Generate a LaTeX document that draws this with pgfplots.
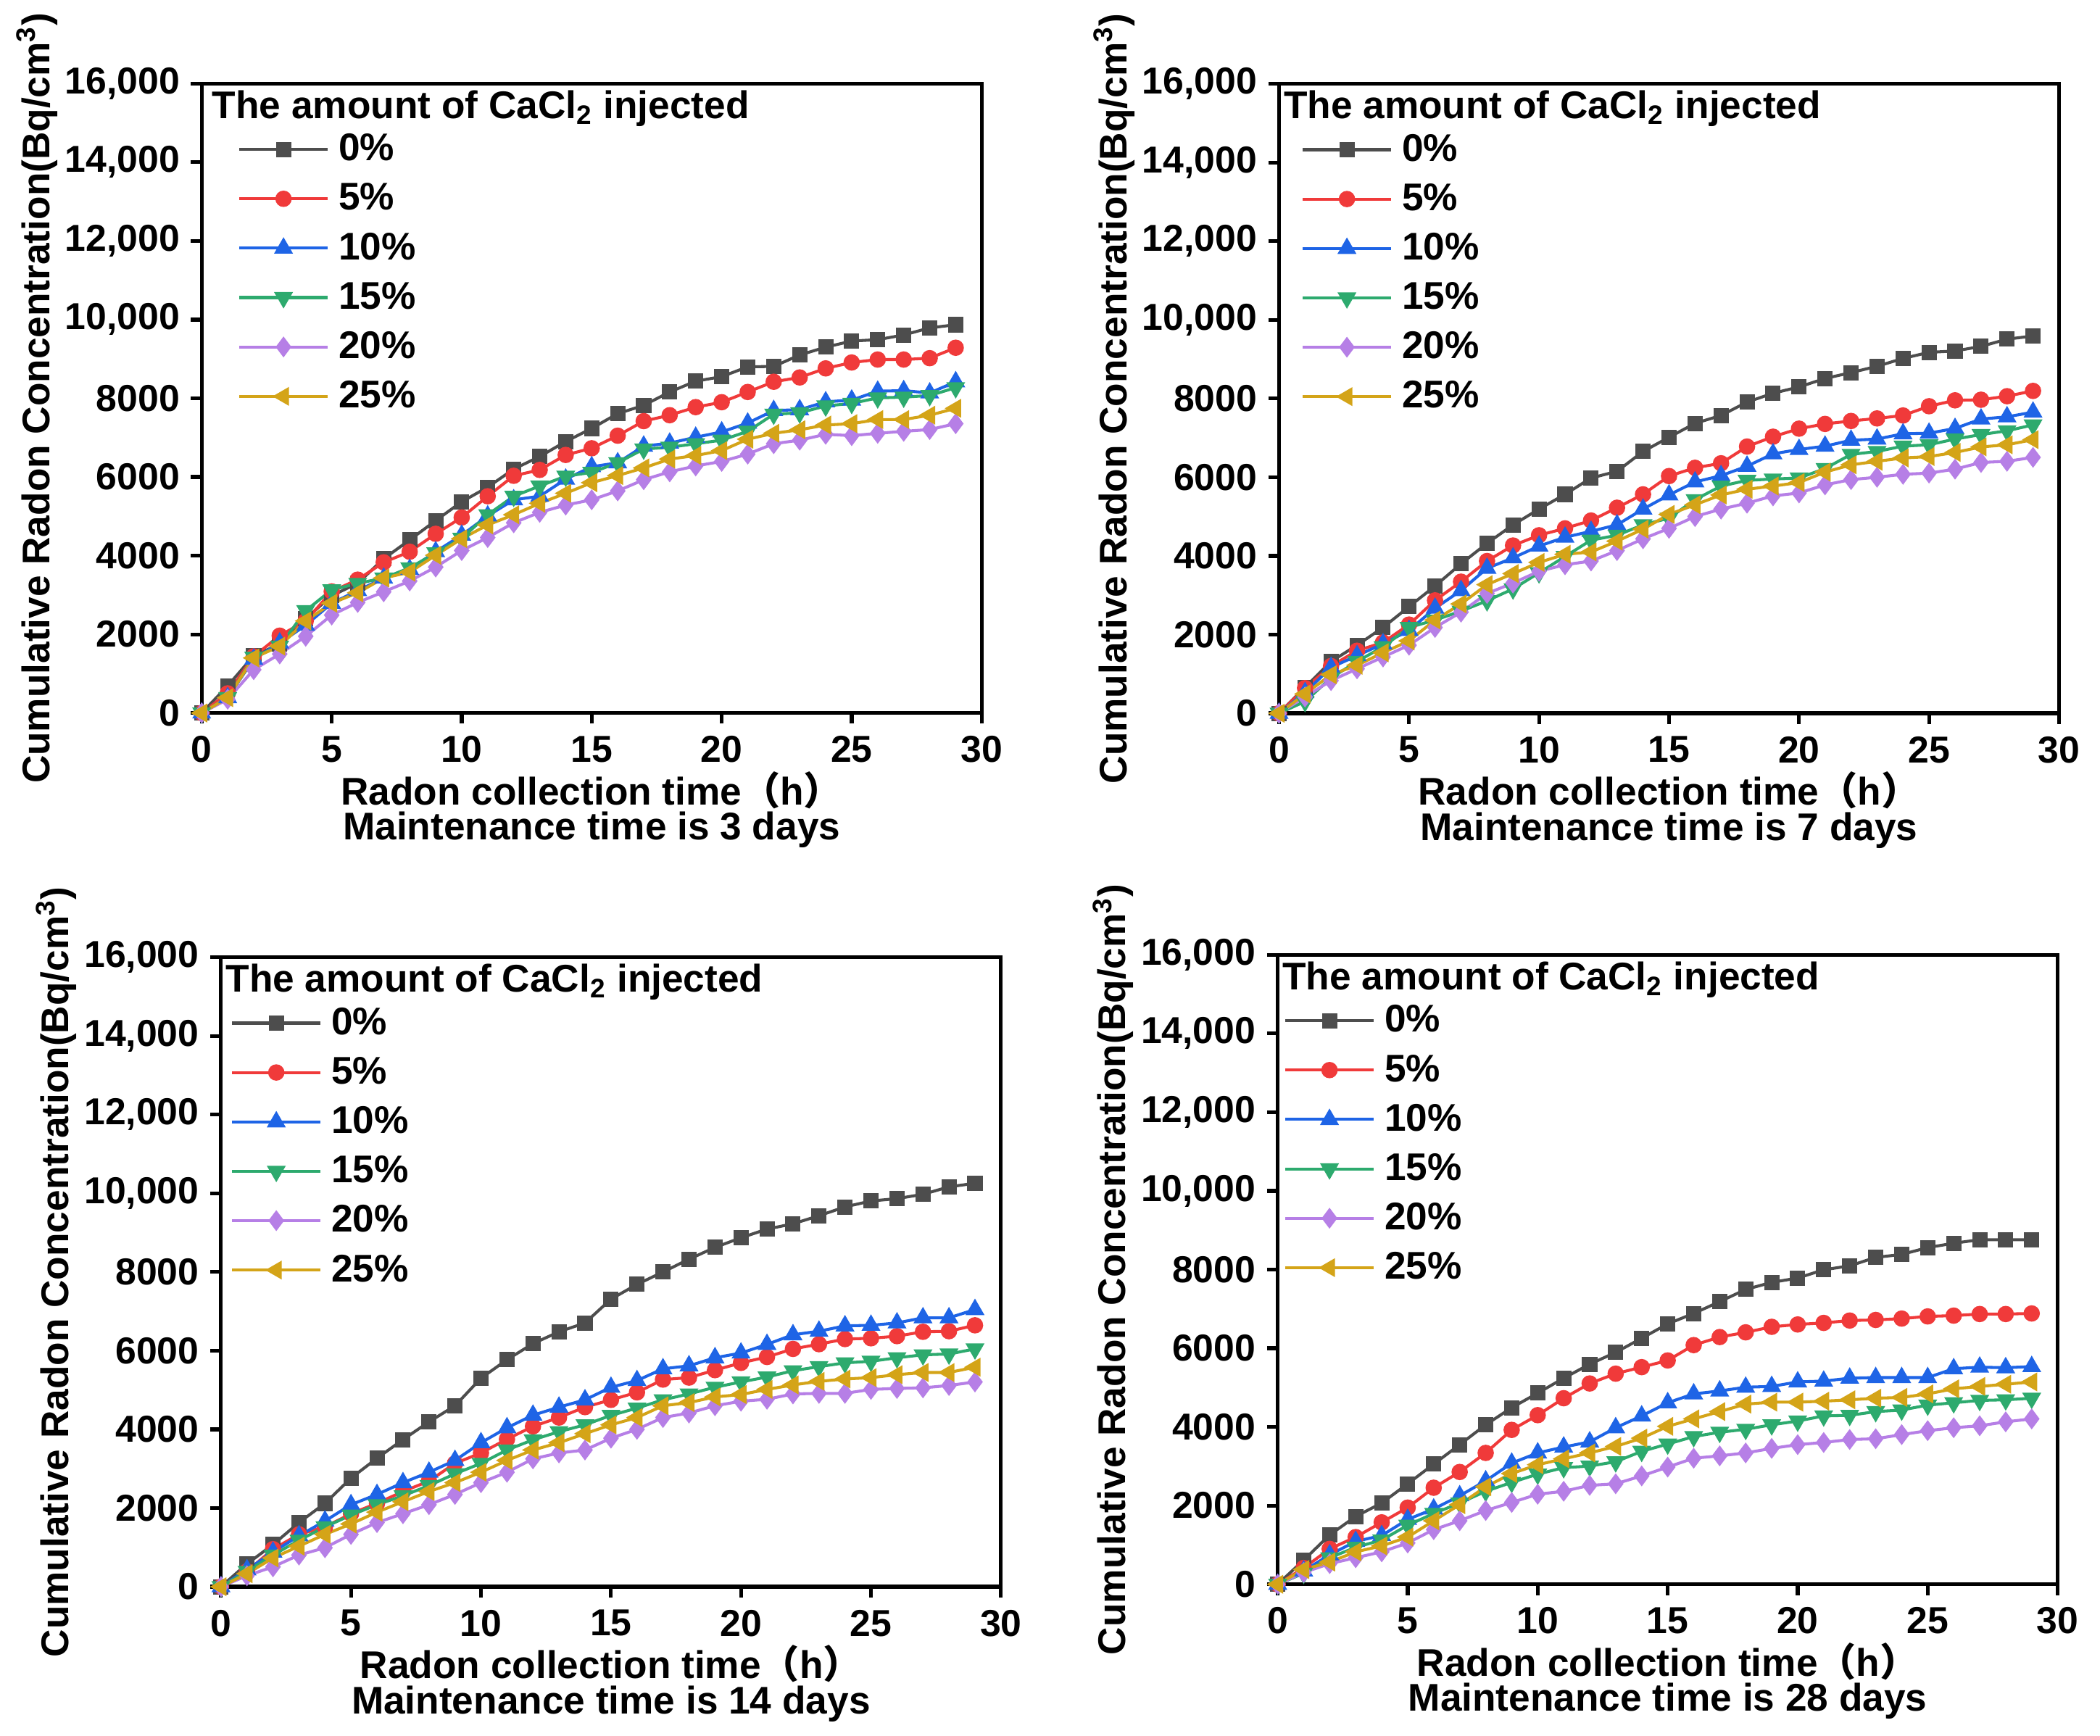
\documentclass[border=0pt]{standalone}
\usepackage{fontspec}
\setmainfont{Liberation Sans}
\newfontfamily\cjk{Noto Sans CJK SC}
\usepackage{pgfplots}
\pgfplotsset{compat=1.18}
\usepackage{pgfplotstable}

\definecolor{cgrey}{HTML}{4D4D4D}
\definecolor{cred}{HTML}{F03A3A}
\definecolor{cblue}{HTML}{1E64E6}
\definecolor{cgreen}{HTML}{2DAA6E}
\definecolor{cpurple}{HTML}{B67FE6}
\definecolor{cgold}{HTML}{D4A418}

\newcommand\tf{\fontsize{14}{17}\selectfont\bfseries}
\newcommand\lf{\fontsize{14.4}{17}\selectfont\bfseries}
\newcommand\xf{\fontsize{14.4}{13.1}\selectfont\bfseries}

\pgfplotstableread{
x s0 s5 s10 s15 s20 s25
0 0 0 0 0 0 0
1 690 500 390 390 350 390
2 1456 1440 1370 1420 1100 1400
3 1750 1966 1780 1700 1500 1700
4 2400 2340 2230 2600 1950 2340
5 2980 3090 2790 3130 2490 2790
6 3300 3390 3110 3295 2810 3055
7 3920 3830 3430 3430 3080 3430
8 4400 4100 3650 3690 3355 3580
9 4890 4555 4100 4070 3710 4010
10 5370 4970 4520 4440 4130 4430
11 5740 5510 5010 5040 4460 4780
12 6200 6030 5420 5510 4835 5040
13 6520 6180 5510 5770 5100 5330
14 6900 6560 5945 6020 5285 5585
15 7235 6730 6260 6115 5420 5855
16 7610 7050 6360 6360 5645 6035
17 7820 7420 6785 6710 5930 6230
18 8160 7570 6860 6755 6130 6455
19 8435 7775 7010 6845 6280 6545
20 8550 7900 7145 6935 6395 6670
21 8800 8160 7370 7160 6580 6960
22 8810 8420 7690 7595 6845 7110
23 9100 8530 7710 7630 6935 7200
24 9300 8760 7910 7805 7085 7320
25 9455 8910 7955 7870 7050 7355
26 9490 8985 8180 8010 7110 7460
27 9610 8985 8195 8030 7160 7460
28 9790 9020 8135 8070 7205 7570
29 9870 9285 8420 8270 7355 7745
}\dataA

\pgfplotstableread{
x s0 s5 s10 s15 s20 s25
0 0 0 0 0 0 0
1 660 640 525 300 415 490
2 1315 1200 1165 900 830 980
3 1730 1590 1465 1315 1130 1220
4 2180 1800 1765 1690 1430 1540
5 2710 2255 2105 2180 1730 1840
6 3235 2870 2670 2370 2180 2370
7 3800 3345 3120 2595 2570 2780
8 4320 3870 3685 2860 3045 3270
9 4790 4265 3950 3160 3310 3550
10 5190 4525 4250 3570 3610 3835
11 5565 4700 4475 3985 3775 4040
12 5980 4900 4625 4400 3870 4100
13 6150 5225 4790 4525 4135 4375
14 6655 5565 5190 4790 4435 4680
15 7015 6030 5550 4960 4700 5055
16 7370 6240 5880 5430 5000 5300
17 7570 6355 6040 5775 5190 5550
18 7910 6780 6280 5920 5340 5695
19 8135 7030 6595 5955 5525 5775
20 8295 7235 6705 5980 5600 5865
21 8510 7355 6790 6220 5805 6130
22 8660 7430 6940 6580 5940 6315
23 8820 7495 6970 6655 6000 6405
24 9020 7570 7105 6790 6075 6490
25 9175 7805 7120 6825 6105 6525
26 9210 7955 7240 6970 6205 6630
27 9325 7970 7480 7085 6375 6770
28 9510 8060 7535 7180 6405 6825
29 9590 8195 7655 7330 6505 6955
}\dataB

\pgfplotstableread{
x s0 s5 s10 s15 s20 s25
0 0 0 0 0 0 0
1 580 390 430 390 280 330
2 1070 955 880 805 505 730
3 1630 1330 1295 1180 805 1030
4 2120 1520 1670 1520 990 1330
5 2760 1855 2085 1820 1330 1595
6 3265 2120 2345 2085 1630 1895
7 3740 2420 2645 2310 1855 2160
8 4190 2685 2910 2570 2085 2420
9 4600 3135 3210 2870 2345 2645
10 5300 3400 3660 3135 2645 2910
11 5770 3750 4040 3475 2910 3210
12 6180 4075 4360 3735 3250 3475
13 6480 4300 4565 3940 3400 3660
14 6705 4565 4750 4115 3475 3890
15 7310 4750 5070 4355 3775 4115
16 7685 4940 5240 4540 4000 4300
17 8000 5265 5540 4750 4300 4600
18 8325 5315 5615 4900 4415 4680
19 8625 5505 5820 5070 4600 4825
20 8870 5690 5940 5205 4715 4885
21 9090 5840 6160 5330 4765 5015
22 9225 6045 6405 5490 4900 5130
23 9430 6165 6495 5595 4915 5220
24 9655 6295 6630 5690 4915 5280
25 9805 6315 6645 5730 5015 5315
26 9865 6370 6705 5820 5040 5390
27 9975 6480 6835 5895 5055 5445
28 10165 6495 6835 5915 5115 5445
29 10255 6645 7045 6045 5205 5580
}\dataC

\pgfplotstableread{
x s0 s5 s10 s15 s20 s25
0 0 0 0 0 0 0
1 615 415 340 280 300 375
2 1255 900 750 675 525 565
3 1725 1200 1090 940 675 825
4 2065 1575 1240 1125 825 975
5 2555 1950 1650 1500 1050 1200
6 3055 2455 1915 1800 1390 1615
7 3550 2855 2250 2065 1615 2025
8 4055 3340 2630 2365 1875 2480
9 4490 3925 3080 2590 2080 2815
10 4860 4300 3340 2800 2290 3040
11 5240 4730 3490 2965 2365 3190
12 5595 5105 3620 3005 2515 3340
13 5895 5355 3980 3115 2555 3505
14 6255 5520 4280 3380 2755 3715
15 6620 5690 4615 3565 2980 4015
16 6885 6080 4840 3755 3205 4205
17 7185 6285 4915 3865 3265 4390
18 7495 6405 5010 3940 3340 4580
19 7675 6545 5030 4055 3455 4630
20 7785 6605 5145 4150 3550 4630
21 7995 6645 5165 4280 3605 4655
22 8095 6705 5240 4295 3680 4690
23 8310 6720 5255 4390 3700 4730
24 8385 6755 5255 4430 3805 4750
25 8560 6810 5255 4555 3905 4840
26 8670 6830 5480 4615 3980 4970
27 8760 6870 5520 4675 4030 5030
28 8760 6870 5505 4690 4130 5085
29 8760 6885 5535 4730 4205 5145
}\dataD

\pgfplotsset{
  radon/.style={
    scale only axis, width=291.2pt, height=235pt,
    xmin=0, xmax=30, ymin=0, ymax=16000,
    xtick={0,5,...,30}, xticklabels={0,5,10,15,20,25,30},
    ytick={0,2000,...,16000},
    yticklabels={0,2000,4000,6000,8000,{10,000},{12,000},{14,000},{16,000}},
    scaled y ticks=false,
    tick align=outside, xtick pos=left, ytick pos=left,
    major tick length=4pt,
    axis line style={line width=1.4pt},
    every major tick/.append style={line width=1.4pt, black},
    ticklabel style={font=\tf},
    yticklabel style={inner sep=4pt},
    xticklabel style={inner sep=4.5pt},
    clip=false,
    ylabel={Cumulative Radon Concentration(Bq/cm\textsuperscript{3})},
    ylabel style={font=\lf, at={(axis description cs:-0.2112,0.5)}, anchor=center},
    xlabel style={font=\xf, align=center, at={(axis description cs:0.5,0)}, anchor=north, inner sep=0pt, yshift=-21.7pt},
    every axis plot/.append style={line width=1.1pt, mark size=2.5pt},
    legend style={at={(axis description cs:0,1)}, anchor=north west, yshift=-16.6pt,
      draw=none, fill=none, font=\lf, row sep=2.9pt, column sep=1.5pt, inner xsep=0pt, inner ysep=0pt,
      nodes={inner sep=2pt, text depth=0.15em}},
    legend cell align=left,
    legend image code/.code={\draw[mark repeat=2,mark phase=2] plot coordinates {(0pt,0pt) (16.5pt,0pt) (33pt,0pt)};},
  }
}

\newcommand{\panel}[6]{%
\begin{axis}[radon, at={(#2,#3)}, anchor=south west,
  xlabel={Radon collection time{\cjk （}h{\cjk ）}\\Maintenance time is #4 days},
  legend style={xshift=#5}]
  \addplot[cgrey, mark=square*, mark options={solid, fill=cgrey}, mark size=2.3pt] table[x=x, y=s0] {#1};
  \addplot[cred, mark=*, mark options={solid, fill=cred}] table[x=x, y=s5] {#1};
  \addplot[cblue, mark=triangle*, mark options={solid, fill=cblue}, mark size=3pt] table[x=x, y=s10] {#1};
  \addplot[cgreen, mark=triangle*, mark options={solid, fill=cgreen, rotate=180}, mark size=3pt] table[x=x, y=s15] {#1};
  \addplot[cpurple, mark=diamond*, mark options={solid, fill=cpurple}, mark size=3pt] table[x=x, y=s20] {#1};
  \addplot[cgold, mark=triangle*, mark options={solid, fill=cgold, rotate=90}, mark size=3pt] table[x=x, y=s25] {#1};
  \legend{0\%,5\%,10\%,15\%,20\%,25\%}
  \node[anchor=west, inner sep=0pt, font=\lf] at (axis description cs:#6,0.9604) {The amount of CaCl\textsubscript{2} injected};
\end{axis}}

\begin{document}
\begin{tikzpicture}
\path[use as bounding box] (0,0) rectangle (784pt,-648pt);
\panel{\dataA}{75.3pt}{-266.2pt}{3}{13.3pt}{0.013}
\panel{\dataB}{477.5pt}{-266.3pt}{7}{8.1pt}{0.0055}
\panel{\dataC}{82.5pt}{-592.4pt}{14}{3.4pt}{0.0055}
\panel{\dataD}{477pt}{-591.5pt}{28}{2.1pt}{0.0055}
\end{tikzpicture}
\end{document}
